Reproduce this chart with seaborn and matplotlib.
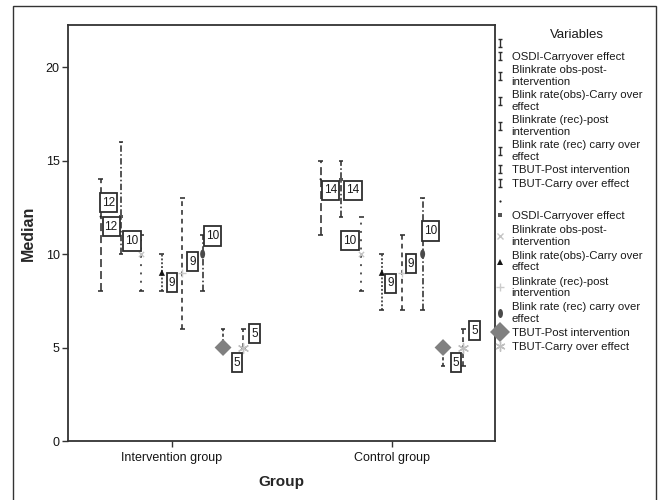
import matplotlib
matplotlib.use('Agg')
import matplotlib.pyplot as plt
import matplotlib.path as mpath
from matplotlib.transforms import Affine2D
from matplotlib.lines import Line2D
from matplotlib.patches import Rectangle
import seaborn as sns
import pandas as pd
import numpy as np

# data
groups = ['Intervention group', 'Control group']
variables = ['', 'OSDI-Carryover effect', 'Blinkrate obs-post-\nintervention',
             'Blink rate(obs)-Carry over\neffect', 'Blinkrate (rec)-post\nintervention',
             'Blink rate (rec) carry over\neffect', 'TBUT-Post intervention',
             'TBUT-Carry over effect']

median_int = [12, 12, 10, 9, 9, 10, 5, 5]
low_int = [8, 10, 8, 8, 6, 8, 5, 5]
high_int = [14, 16, 11, 10, 13, 11, 6, 6]

median_ctl = [14, 14, 10, 9, 9, 10, 5, 5]
low_ctl = [11, 12, 8, 7, 7, 7, 4, 4]
high_ctl = [15, 15, 12, 10, 11, 13, 5, 6]

rows = []
for g, (med, lo, hi) in zip(groups, [(median_int, low_int, high_int),
                                     (median_ctl, low_ctl, high_ctl)]):
    for i, v in enumerate(variables):
        rows.append({'group': g, 'var_idx': i, 'median': med[i], 'low': lo[i], 'high': hi[i]})
df = pd.DataFrame(rows)

# dodge inside each group
step = 0.0927
df['x'] = df['group'].map({g: k for k, g in enumerate(groups)}) + (df['var_idx'] - 3.5) * step

# styles
ellipse = mpath.Path.unit_circle().transformed(Affine2D().scale(0.55, 1.0))
asterisk = (6, 2, 0)
markers = ['.', 's', 'x', '^', '+', ellipse, 'D', asterisk]
mcolors = ['#222222', '#555555', '#c4c4c4', '#151515', '#cccccc', '#4a4a4a', '#808080', '#c0c0c0']
msizes = [10, 6, 14, 20, 28, 42, 74, 52]
err_styles = [(0, (5, 2.5)), (0, (4, 1.5, 1, 1.5)), (0, (1.2, 4)), (0, (1.2, 1.2)),
              (0, (3, 2.5)), (0, (4, 1.5, 1, 1.5)), (0, (2, 1.5)), (0, (3, 2))]
ecolor = '#2e2e2e'

# label offsets in pixels (dx, dy), per group then per variable
label_off = [[(8, 14), (-10, -10), (-9.5, 13), (10, -10), (10, 11), (10, 18), (14, -15), (11, 14)],
             [(10, -11), (12, -11), (-11.5, 13.5), (8.5, -10.5), (9, 9), (8, 23), (13, -15), (11, 17)]]


def tall_box(x0, y0, width, height, mutation_size):
    # box a bit taller than wide, like the value labels
    px, py = 0.17 * mutation_size, 0.3 * mutation_size
    x0, y0 = x0 - px, y0 - py
    x1, y1 = x0 + width + 2 * px, y0 + height + 2 * py
    return mpath.Path([(x0, y0), (x1, y0), (x1, y1), (x0, y1), (x0, y0)], closed=True)


sns.set_style('ticks')
plt.rcParams['font.family'] = ['Liberation Sans', 'DejaVu Sans']

fig = plt.figure(figsize=(6.59, 5.0), dpi=100)
ax = fig.add_axes([68 / 659, 1 - 441 / 500, (495 - 68) / 659, (441 - 25) / 500])

cap = 0.011
for i in range(len(variables)):
    sub = df[df['var_idx'] == i]
    ax.vlines(sub['x'], sub['low'], sub['high'], colors=ecolor, linewidth=1.15,
              linestyles=[err_styles[i]], zorder=2)
    ax.hlines(sub['low'], sub['x'] - cap, sub['x'] + cap, colors=ecolor, linewidth=1.15, zorder=2)
    ax.hlines(sub['high'], sub['x'] - cap, sub['x'] + cap, colors=ecolor, linewidth=1.15, zorder=2)
    sns.scatterplot(x=sub['x'], y=sub['median'], marker=markers[i], color=mcolors[i],
                    s=msizes[i], linewidth=1.0 if i in (2, 4, 7) else 0,
                    edgecolor=mcolors[i] if i in (2, 4, 7) else 'none',
                    ax=ax, legend=False, zorder=3)

for _, r in df.iterrows():
    gi = groups.index(r['group'])
    dx, dy = label_off[gi][int(r['var_idx'])]
    ax.annotate(str(int(r['median'])), (r['x'], r['median']), xytext=(dx * 0.72, dy * 0.72),
                textcoords='offset points', ha='center', va='center', fontsize=8.5,
                color='#1a1a1a', zorder=5,
                bbox=dict(boxstyle=tall_box, fc='white', ec='#2e2e2e', lw=1.3))

ax.set_xlim(-0.473, 1.468)
ax.set_ylim(0, 22.25)
ax.set_xticks([0, 1])
ax.set_xticklabels(groups)
ax.set_yticks([0, 5, 10, 15, 20])
ax.tick_params(axis='both', labelsize=9, length=4, width=1, color='#333333', labelcolor='#151515')
ax.tick_params(axis='x', pad=4)
ax.tick_params(axis='y', pad=2)
for s in ax.spines.values():
    s.set_visible(True)
    s.set_color('#333333')
    s.set_linewidth(1.3)
ax.set_xlabel('Group', fontsize=11, fontweight='bold', labelpad=8)
ax.set_ylabel('Median', fontsize=11.5, fontweight='bold', labelpad=7)

# legend of the range lines
fig.text(577 / 659, 1 - 35 / 500, 'Variables', ha='center', va='center', fontsize=9.5, color='#1a1a1a')
cap_path = mpath.Path([(-0.5, 1), (0.5, 1), (0, 1), (0, -1), (-0.5, -1), (0.5, -1)],
                      [1, 2, 1, 2, 1, 2])
line_handles = [Line2D([], [], linestyle='none', marker=cap_path, markersize=6,
                       markeredgecolor=ecolor, markerfacecolor='none', markeredgewidth=1)
                for _ in variables]
leg1 = fig.legend(line_handles, variables, loc='upper left', bbox_to_anchor=(0.752, 0.923),
                  frameon=False, fontsize=8.2, handlelength=0.7, handletextpad=0.7,
                  labelspacing=0.3, borderpad=0, borderaxespad=0)
for t in leg1.get_texts():
    t.set_linespacing(1.2)
    t.set_color('#1a1a1a')

# legend of the median markers
mark_handles = []
for i in range(len(variables)):
    ms = np.sqrt(msizes[i]) * (1.2 if i == 6 else 1.0)
    mark_handles.append(Line2D([], [], linestyle='none', marker=markers[i], markersize=ms,
                               color=mcolors[i], markeredgewidth=1.0 if i in (2, 4, 7) else 0))
leg2 = fig.legend(mark_handles, variables, loc='upper left', bbox_to_anchor=(0.752, 0.607),
                  frameon=False, fontsize=8.2, handlelength=0.7, handletextpad=0.7,
                  labelspacing=0.37, borderpad=0, borderaxespad=0)
for t in leg2.get_texts():
    t.set_linespacing(1.2)
    t.set_color('#1a1a1a')

# outer frame of the chart
fig.patches.append(Rectangle((13 / 659, -0.01), (656 - 13) / 659, 1 - 6 / 500 + 0.01,
                             transform=fig.transFigure, fill=False, ec='#333333', lw=1.0))

fig.savefig('out.png', dpi=100)
